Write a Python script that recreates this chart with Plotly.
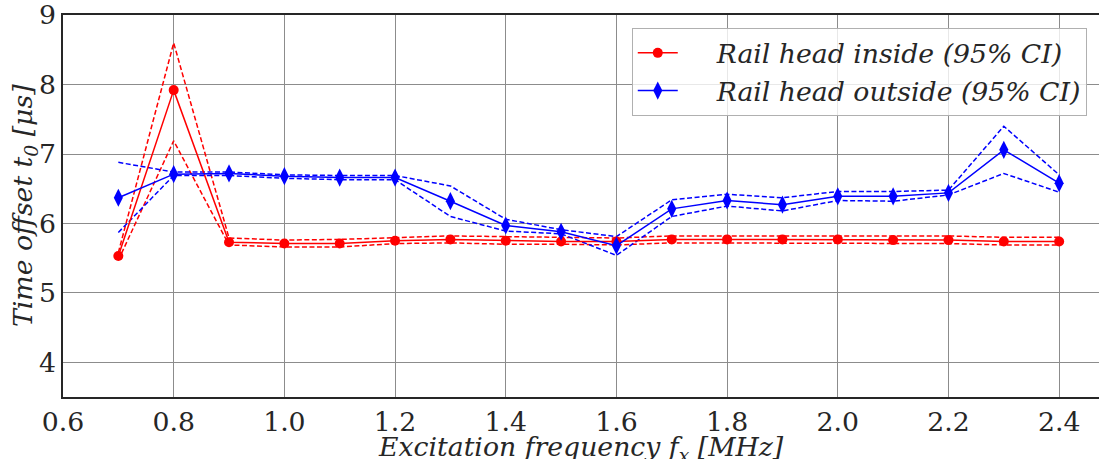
import plotly.graph_objects as go

freq = [0.7, 0.8, 0.9, 1.0, 1.1, 1.2, 1.3, 1.4, 1.5, 1.6, 1.7, 1.8, 1.9, 2.0, 2.1, 2.2, 2.3, 2.4]

inside_mean = [5.53, 7.92, 5.73, 5.71, 5.71, 5.75, 5.77, 5.75, 5.74, 5.74, 5.77, 5.77, 5.77, 5.77, 5.76, 5.76, 5.74, 5.74]
inside_upper = [5.58, 8.60, 5.79, 5.76, 5.77, 5.80, 5.82, 5.81, 5.80, 5.79, 5.82, 5.82, 5.82, 5.82, 5.81, 5.82, 5.80, 5.80]
inside_lower = [5.47, 7.19, 5.69, 5.66, 5.66, 5.71, 5.72, 5.70, 5.70, 5.69, 5.72, 5.72, 5.72, 5.71, 5.71, 5.71, 5.69, 5.69]

outside_mean = [6.37, 6.71, 6.72, 6.68, 6.66, 6.66, 6.32, 5.97, 5.88, 5.68, 6.21, 6.33, 6.27, 6.39, 6.39, 6.44, 7.06, 6.58]
outside_upper = [6.88, 6.74, 6.74, 6.70, 6.69, 6.69, 6.54, 6.06, 5.91, 5.81, 6.34, 6.42, 6.37, 6.46, 6.46, 6.48, 7.40, 6.70]
outside_lower = [5.87, 6.69, 6.69, 6.65, 6.63, 6.63, 6.10, 5.89, 5.85, 5.54, 6.10, 6.25, 6.18, 6.33, 6.32, 6.41, 6.72, 6.45]

x_ticks = [0.6, 0.8, 1.0, 1.2, 1.4, 1.6, 1.8, 2.0, 2.2, 2.4]
y_ticks = [4, 5, 6, 7, 8, 9]

x_title = "<i>Excitation frequency f<sub>x</sub> [MHz]</i>"
y_title = "<i>Time offset t<sub>0</sub> [μs]</i>"

RED = "#ff0000"
BLUE = "#0000ff"
FONT = "DejaVu Serif"
FS = 26.7
PAD = "\u00a0" * 4

fig = go.Figure()

for ys in (inside_upper, inside_lower):
    fig.add_trace(go.Scatter(x=freq, y=ys, mode="lines", showlegend=False,
                             line=dict(color=RED, width=1.5, dash="5px,2.5px"),
                             hoverinfo="skip"))
for ys in (outside_upper, outside_lower):
    fig.add_trace(go.Scatter(x=freq, y=ys, mode="lines", showlegend=False,
                             line=dict(color=BLUE, width=1.5, dash="5px,2.5px"),
                             hoverinfo="skip"))

fig.add_trace(go.Scatter(x=freq, y=inside_mean, mode="lines+markers",
                         name=PAD + "<i>Rail head inside (95% CI)</i>",
                         line=dict(color=RED, width=1.5),
                         marker=dict(symbol="circle", size=10, color=RED)))
fig.add_trace(go.Scatter(x=freq, y=outside_mean, mode="lines+markers",
                         name=PAD + "<i>Rail head outside (95% CI)</i>",
                         line=dict(color=BLUE, width=1.5),
                         marker=dict(symbol="diamond-tall", size=13, color=BLUE)))

fig.update_layout(
    width=1099, height=459,
    margin=dict(l=63, r=0, t=15, b=62, autoexpand=False),
    paper_bgcolor="white", plot_bgcolor="white",
    font=dict(family=FONT, size=FS, color="#262626"),
    legend=dict(x=0.549, y=0.966, xanchor="left", yanchor="top",
                bgcolor="rgba(255,255,255,0.8)", bordercolor="#b0b0b0", borderwidth=1,
                font=dict(family=FONT, size=FS, color="#262626"),
                itemwidth=40, tracegroupgap=0),
    xaxis=dict(range=[0.6, 2.472], tickvals=x_ticks,
               ticktext=[f"{v:.1f}" for v in x_ticks],
               showgrid=True, gridcolor="#8c8c8c", gridwidth=1,
               showline=True, linecolor="#262626", linewidth=1.5, mirror=True,
               ticks="", zeroline=False, automargin=False,
               ticklabeloverflow="allow",
               tickfont=dict(family=FONT, size=FS)),
    yaxis=dict(range=[3.5, 9.002], tickvals=y_ticks,
               showgrid=True, gridcolor="#8c8c8c", gridwidth=1,
               showline=True, linecolor="#262626", linewidth=1.5, mirror=False,
               ticks="", zeroline=False, automargin=False,
               ticklabeloverflow="allow",
               tickfont=dict(family=FONT, size=FS)),
    annotations=[
        dict(text=x_title, xref="paper", yref="paper", x=0.5, y=0,
             xanchor="center", yanchor="top", yshift=-32, showarrow=False,
             font=dict(family=FONT, size=FS, color="#262626")),
        dict(text=y_title, xref="paper", yref="paper", x=0, y=0.5,
             xanchor="center", yanchor="middle", xshift=-39, textangle=-90,
             showarrow=False, font=dict(family=FONT, size=FS, color="#262626")),
    ],
)

fig.write_html("out.html", config={"displayModeBar": False},
               post_script="document.body.style.margin='0';")
